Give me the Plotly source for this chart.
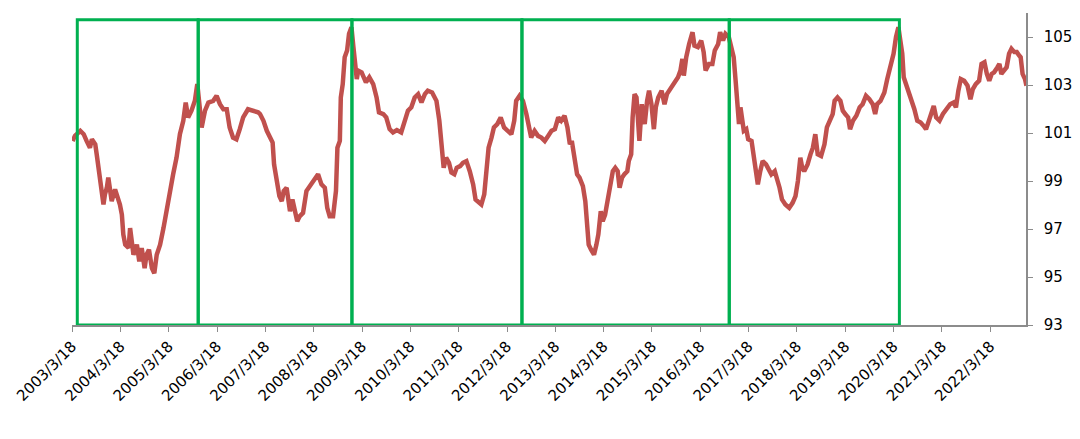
import pandas as pd
import plotly.graph_objects as go

# decimal years and index values
years = [
    2003.22, 2003.27, 2003.38, 2003.45, 2003.51, 2003.58, 2003.62, 2003.69, 2003.72, 2003.76,
    2003.79, 2003.82, 2003.86, 2003.89, 2003.93, 2003.96, 2004.00, 2004.03, 2004.10, 2004.15,
    2004.20, 2004.24, 2004.27, 2004.31, 2004.38, 2004.41, 2004.44, 2004.48, 2004.55, 2004.60,
    2004.65, 2004.71, 2004.75, 2004.80, 2004.86, 2004.91, 2004.96, 2005.03, 2005.10, 2005.17,
    2005.24, 2005.30, 2005.37, 2005.44, 2005.51, 2005.56, 2005.61, 2005.68, 2005.75, 2005.80,
    2005.85, 2005.89, 2005.96, 2006.03, 2006.13, 2006.20, 2006.27, 2006.34, 2006.41, 2006.47,
    2006.54, 2006.61, 2006.68, 2006.75, 2006.85, 2006.96, 2007.06,
    2007.10, 2007.17, 2007.24, 2007.31, 2007.36, 2007.39, 2007.44, 2007.50, 2007.55, 2007.59,
    2007.65, 2007.68, 2007.72, 2007.77, 2007.81, 2007.87, 2007.92, 2007.99, 2008.06, 2008.13,
    2008.20, 2008.26, 2008.30, 2008.37, 2008.44, 2008.49, 2008.54, 2008.61, 2008.67, 2008.70,
    2008.75, 2008.77, 2008.81, 2008.85, 2008.90, 2008.94, 2008.99, 2009.03, 2009.06, 2009.10,
    2009.13, 2009.20, 2009.29, 2009.36, 2009.44, 2009.51, 2009.56, 2009.65, 2009.71, 2009.78,
    2009.85, 2009.93, 2010.02, 2010.09, 2010.16, 2010.23, 2010.30, 2010.37, 2010.44, 2010.51,
    2010.57, 2010.66, 2010.75, 2010.81, 2010.86, 2010.90, 2010.95, 2011.01, 2011.06,
    2011.12, 2011.17, 2011.24, 2011.30, 2011.37, 2011.44, 2011.51, 2011.56, 2011.61, 2011.68,
    2011.74, 2011.79, 2011.83, 2011.89, 2011.94, 2012.01, 2012.08, 2012.15, 2012.23, 2012.30,
    2012.36, 2012.40, 2012.47, 2012.54, 2012.61, 2012.68, 2012.71, 2012.78, 2012.85, 2012.92,
    2012.99, 2013.06, 2013.13, 2013.20, 2013.27, 2013.33, 2013.40, 2013.46, 2013.51, 2013.55,
    2013.61, 2013.66, 2013.71, 2013.78, 2013.83, 2013.87, 2013.90, 2013.95, 2014.01, 2014.06,
    2014.10, 2014.15, 2014.19, 2014.24, 2014.28, 2014.33, 2014.40, 2014.45, 2014.50, 2014.54,
    2014.59, 2014.64, 2014.70, 2014.73, 2014.78, 2014.81, 2014.85, 2014.89, 2014.92, 2014.95,
    2015.00,
    2015.06, 2015.11, 2015.15, 2015.20, 2015.25, 2015.29, 2015.34, 2015.41, 2015.47, 2015.52,
    2015.59, 2015.68, 2015.75, 2015.80, 2015.84, 2015.87, 2015.92, 2015.98, 2016.05, 2016.09,
    2016.16, 2016.23, 2016.28, 2016.32, 2016.39, 2016.46, 2016.51, 2016.58, 2016.62, 2016.68,
    2016.73, 2016.80, 2016.85, 2016.90, 2016.94, 2016.97, 2017.01, 2017.04, 2017.08, 2017.11,
    2017.16, 2017.20, 2017.27, 2017.32, 2017.37, 2017.40, 2017.45, 2017.50, 2017.57, 2017.63,
    2017.68, 2017.75, 2017.79, 2017.85, 2017.90, 2017.97, 2018.05, 2018.12, 2018.18, 2018.23,
    2018.28, 2018.32, 2018.36, 2018.43, 2018.49, 2018.54, 2018.59, 2018.64, 2018.71, 2018.78,
    2018.83, 2018.88, 2018.95,
    2018.99, 2019.05, 2019.11, 2019.16, 2019.21, 2019.27, 2019.31, 2019.37, 2019.44, 2019.51,
    2019.57, 2019.64, 2019.71, 2019.78, 2019.83, 2019.87, 2019.94, 2020.02, 2020.08, 2020.13,
    2020.17, 2020.21, 2020.26, 2020.31, 2020.35, 2020.39, 2020.42, 2020.47, 2020.52, 2020.56,
    2020.61, 2020.64, 2020.70, 2020.77, 2020.83, 2020.88, 2020.94, 2021.00, 2021.04, 2021.09,
    2021.16, 2021.23, 2021.32, 2021.38, 2021.45, 2021.50, 2021.55, 2021.60, 2021.67, 2021.74,
    2021.80, 2021.85, 2021.91, 2021.98, 2022.03, 2022.09, 2022.14, 2022.19, 2022.24, 2022.29,
    2022.36, 2022.40, 2022.44, 2022.50, 2022.55, 2022.60, 2022.65, 2022.71, 2022.76, 2022.81,
    2022.84, 2022.88, 2022.93, 2022.96,
]

values = [
    100.67, 100.88, 101.09, 100.95, 100.67, 100.39, 100.74, 100.53, 100.11, 99.42,
    98.86, 98.44, 98.02, 98.44, 98.72, 99.14, 98.58, 98.16, 98.65, 98.37,
    98.02, 97.60, 96.77, 96.35, 96.21, 97.04, 96.49, 95.93, 96.35, 95.65,
    96.21, 95.37, 95.93, 96.14, 95.37, 95.16, 95.93, 96.35, 97.04, 97.88,
    98.58, 99.28, 99.97, 100.95, 101.51, 102.27, 101.65, 101.93, 102.34, 103.04,
    102.07, 101.23, 101.93, 102.27, 102.34, 102.55, 102.20, 101.99, 101.99, 101.23,
    100.81, 100.74, 101.16, 101.65, 101.99, 101.93, 101.86,
    101.79, 101.51, 101.09, 100.81, 100.60, 99.69, 99.00, 98.37, 98.16, 98.58,
    98.72, 98.37, 97.74, 98.23, 97.88, 97.32, 97.53, 97.67, 98.58, 98.79,
    98.93, 99.14, 99.28, 98.86, 98.72, 97.88, 97.53, 97.53, 98.58, 100.39,
    100.67, 102.48, 103.04, 104.16, 104.44, 105.13, 105.41, 104.58, 103.88, 103.25,
    103.60, 103.53, 103.11, 103.32, 103.04, 102.48, 101.86, 101.79, 101.65, 101.16,
    101.02, 101.12, 101.02, 101.51, 101.93, 102.07, 102.48, 102.62, 102.27, 102.62,
    102.76, 102.69, 102.34, 101.51, 100.53, 99.55, 99.97, 99.76, 99.35,
    99.28, 99.55, 99.62, 99.76, 99.83, 99.41, 98.86, 98.23, 98.16, 98.02,
    98.44, 99.41, 100.39, 100.81, 101.23, 101.37, 101.65, 101.23, 101.09, 100.95,
    101.51, 102.34, 102.55, 102.34, 101.79, 101.23, 100.81, 101.09, 100.88, 100.81,
    100.67, 100.88, 101.09, 101.16, 101.65, 101.51, 101.72, 101.23, 100.53, 100.67,
    99.97, 99.28, 99.14, 98.79, 98.16, 97.32, 96.35, 96.14, 95.93, 96.35,
    96.77, 97.74, 97.32, 97.60, 98.02, 98.72, 99.41, 99.55, 99.41, 98.72,
    99.14, 99.28, 99.41, 99.83, 100.11, 101.65, 102.62, 102.48, 101.23, 100.67,
    102.20,
    101.37, 102.34, 102.76, 102.20, 101.16, 102.07, 102.48, 102.76, 102.20, 102.62,
    102.83, 103.11, 103.32, 103.60, 104.09, 103.39, 104.16, 104.71, 105.20, 104.64,
    104.58, 104.85, 104.37, 103.60, 103.88, 103.88, 104.44, 104.71, 105.20, 104.85,
    105.13, 104.99, 104.58, 104.16, 103.18, 102.07, 101.37, 102.07, 101.51, 101.09,
    101.16, 100.74, 100.67, 99.97, 99.14, 98.86, 99.41, 99.83, 99.69, 99.41,
    99.28, 99.41, 99.14, 98.72, 98.23, 98.02, 97.88, 98.09, 98.37, 99.00,
    99.97, 99.55, 99.41, 99.69, 100.11, 100.39, 100.95, 100.11, 100.04, 100.53,
    101.23, 101.51, 101.79,
    102.34, 102.48, 102.34, 101.93, 101.79, 101.65, 101.16, 101.51, 101.72, 102.07,
    102.20, 102.55, 102.41, 102.20, 101.79, 102.20, 102.34, 102.69, 103.25, 103.67,
    103.88, 104.30, 104.99, 105.41, 104.85, 104.30, 103.32, 103.04, 102.69, 102.48,
    102.27, 101.99, 101.51, 101.44, 101.30, 101.16, 101.51, 101.93, 102.13, 101.65,
    101.51, 101.79, 102.07, 102.20, 102.27, 102.07, 102.76, 103.25, 103.18, 102.97,
    102.41, 102.83, 103.04, 103.18, 103.88, 103.95, 103.46, 103.18, 103.46, 103.53,
    103.74, 103.88, 103.46, 103.60, 103.74, 104.30, 104.51, 104.37, 104.37, 104.23,
    104.16, 103.46, 103.25, 102.97,
]

# period boxes (start, end) drawn in green
box_starts = ["2003-04-27", "2005-10-27", "2009-01-01", "2012-07-09", "2016-10-23"]
box_ends = ["2005-10-27", "2009-01-01", "2012-07-09", "2016-10-23", "2020-05-01"]
box_top = 105.72

tick_dates = [f"{y}-03-18" for y in range(2003, 2023)]
tick_labels = [f"{y}/3/18" for y in range(2003, 2023)]
y_ticks = [93, 95, 97, 99, 101, 103, 105]


def yr_to_date(y):
    yr = int(y)
    frac = y - yr
    start = pd.Timestamp(yr, 1, 1)
    end = pd.Timestamp(yr + 1, 1, 1)
    return start + (end - start) * frac


dates = [yr_to_date(y) for y in years]

fig = go.Figure()
fig.add_trace(go.Scatter(
    x=dates, y=values, mode="lines",
    line=dict(color="#C0504D", width=4.5),
    showlegend=False, hoverinfo="skip",
))

for s, e in zip(box_starts, box_ends):
    fig.add_shape(type="rect", xref="x", yref="y", x0=s, x1=e, y0=93, y1=box_top,
                  line=dict(color="#00B050", width=3), fillcolor="rgba(0,0,0,0)",
                  layer="above")

font = dict(family="DejaVu Sans, Verdana, sans-serif", size=15, color="#000000")

fig.update_layout(
    width=1072, height=431,
    margin=dict(l=62, r=54, t=5, b=114),
    paper_bgcolor="white", plot_bgcolor="white",
    font=font,
    xaxis=dict(
        type="date", range=["2003-03-18", "2022-12-14"],
        tickmode="array", tickvals=tick_dates, ticktext=tick_labels,
        tickangle=-45, ticks="outside", ticklen=5, tickcolor="#8C8C8C",
        showline=True, linecolor="#8C8C8C", linewidth=1.5,
        showgrid=False, zeroline=False, tickfont=font,
    ),
    yaxis=dict(
        side="right", range=[93, 106],
        tickmode="array", tickvals=y_ticks,
        ticks="outside", ticklen=5, tickcolor="#8C8C8C",
        showline=True, linecolor="#8C8C8C", linewidth=1.5,
        showgrid=False, zeroline=False, tickfont=font,
        ticklabelstandoff=8,
    ),
)

fig.write_html("out.html")
